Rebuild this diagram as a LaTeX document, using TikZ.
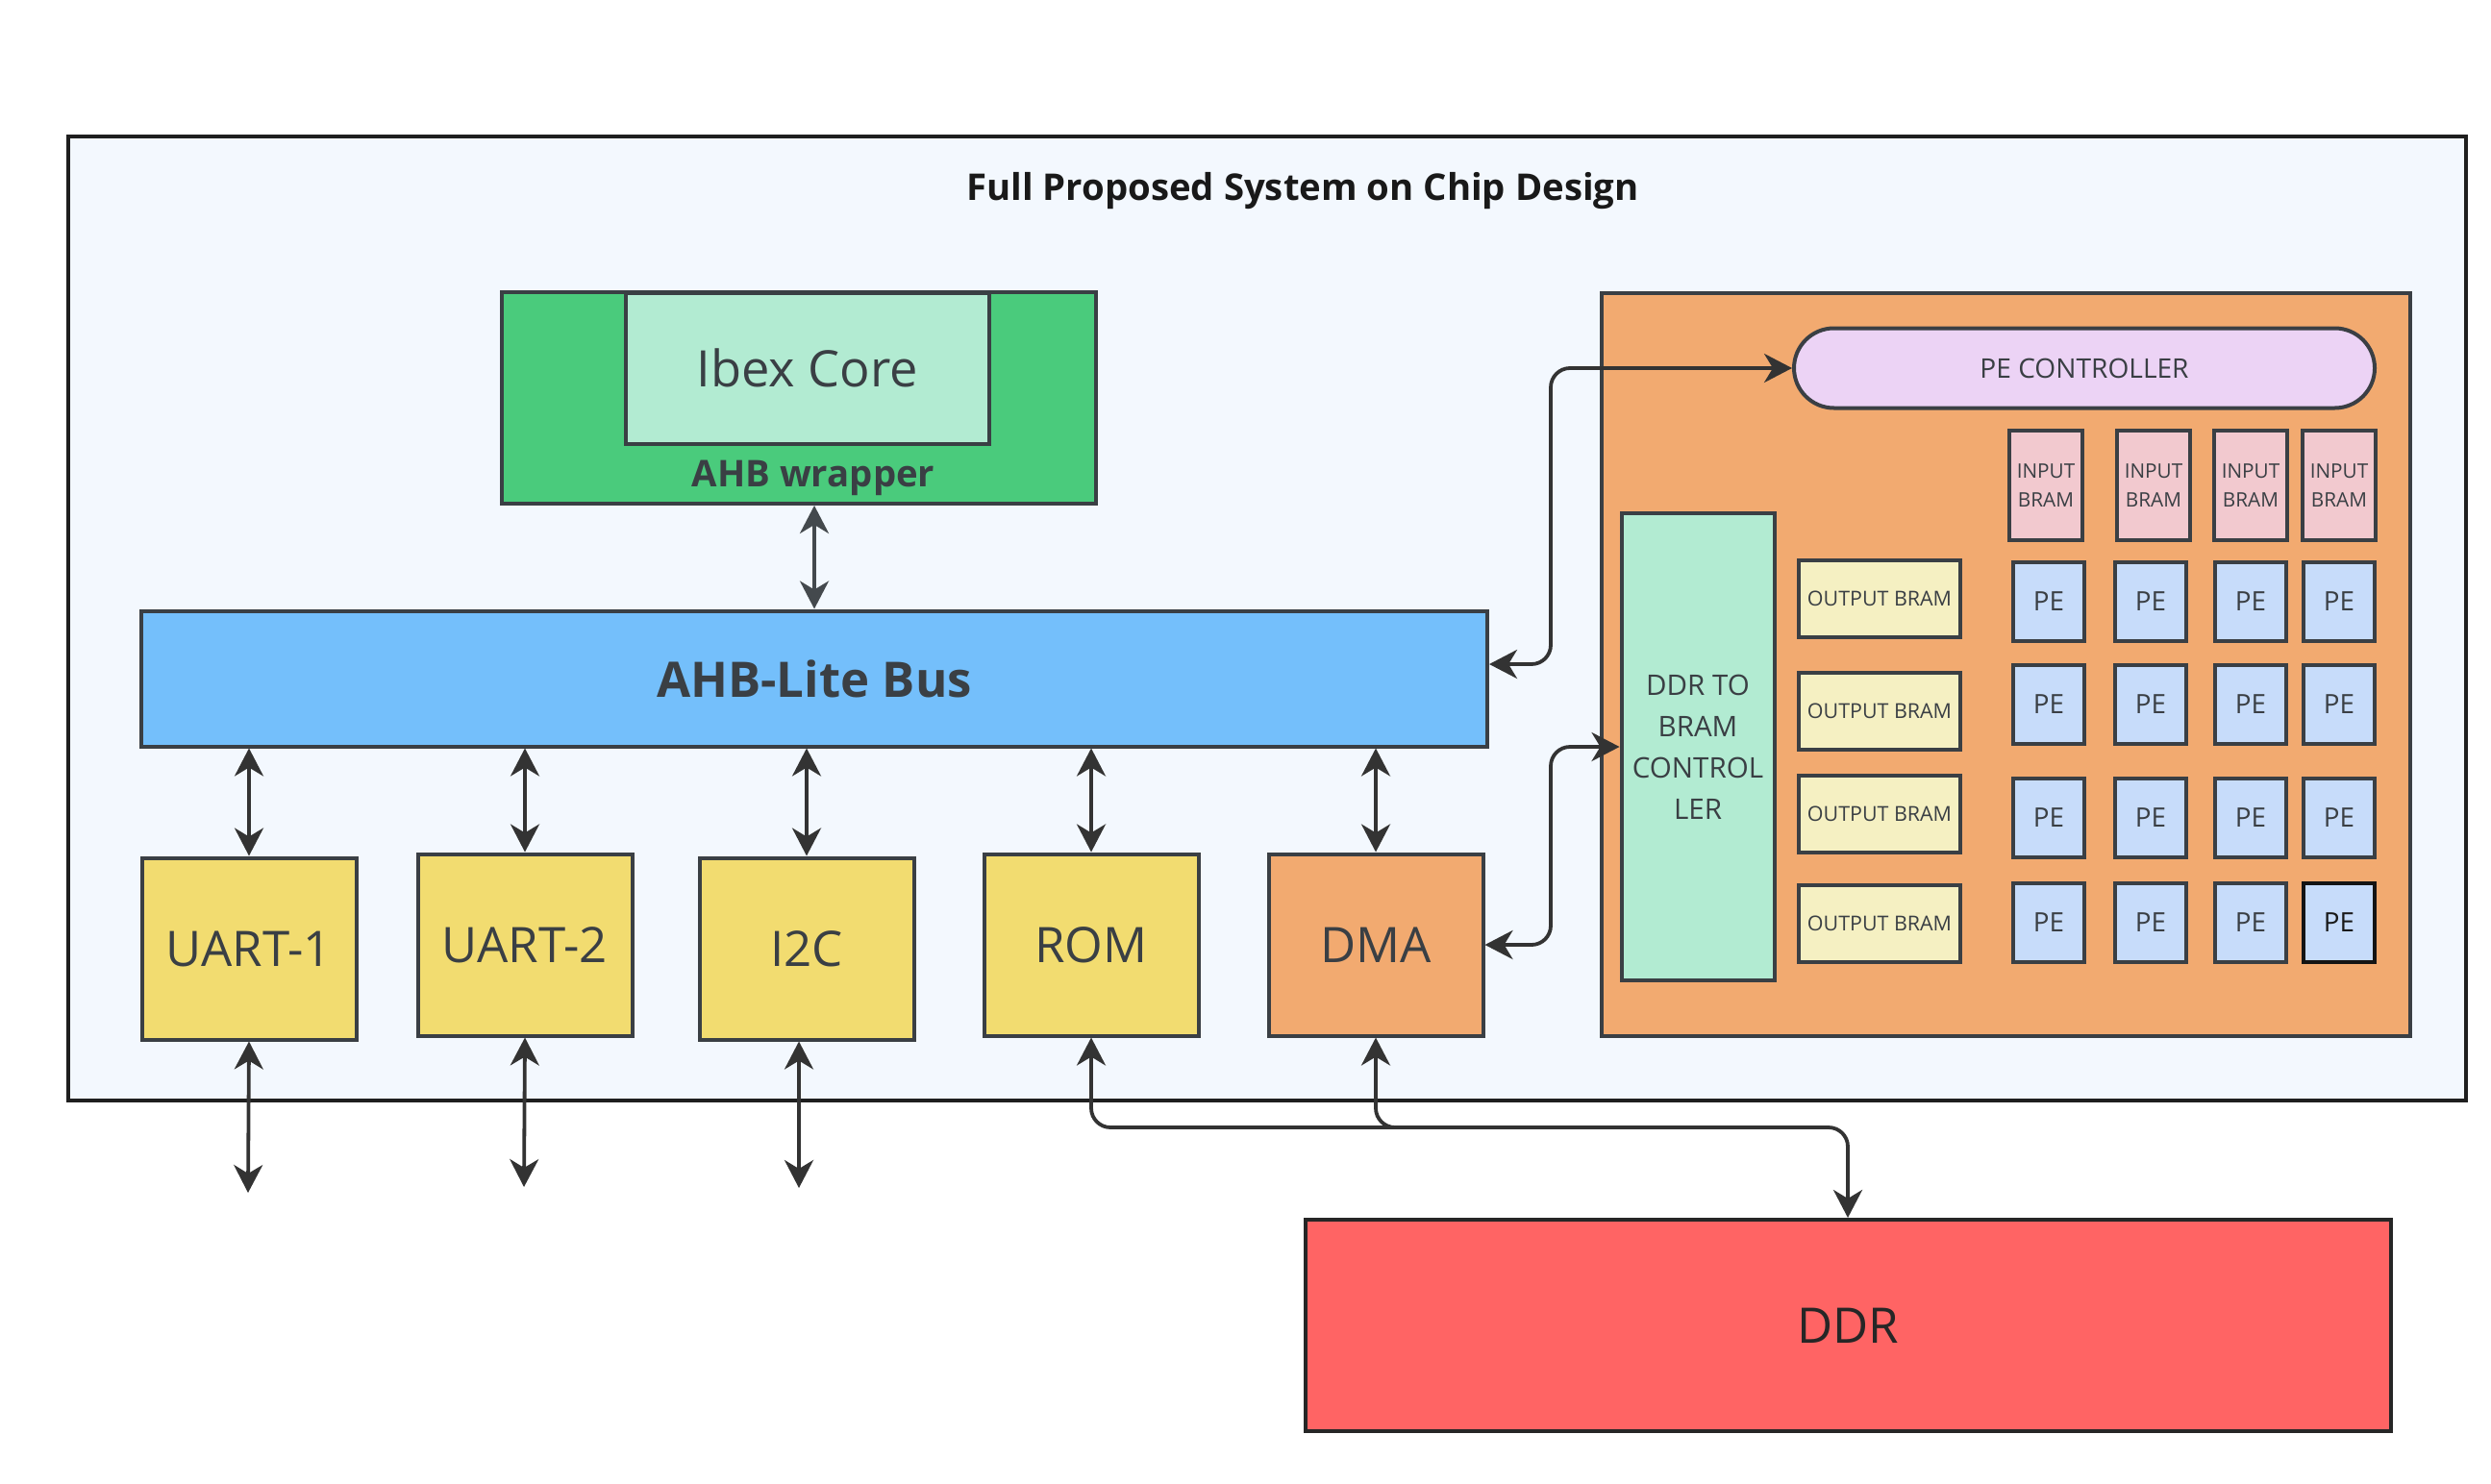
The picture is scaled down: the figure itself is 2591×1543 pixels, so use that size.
\documentclass[tikz,border=0pt]{standalone}
\usepackage{fontspec}
\setmainfont{Open Sans}
\usetikzlibrary{arrows.meta, positioning, calc}

\definecolor{chipbg}{RGB}{243,248,254}
\definecolor{edgegray}{RGB}{58,63,68}
\definecolor{wrapgreen}{RGB}{74,203,124}
\definecolor{coremint}{RGB}{178,235,210}
\definecolor{busblue}{RGB}{116,191,251}
\definecolor{periyellow}{RGB}{242,220,112}
\definecolor{accorange}{RGB}{242,170,112}
\definecolor{ctrlpurple}{RGB}{236,211,245}
\definecolor{inpink}{RGB}{242,201,207}
\definecolor{outcream}{RGB}{245,240,194}
\definecolor{peblue}{RGB}{199,220,250}
\definecolor{ddrred}{RGB}{255,100,100}

\begin{document}
\begin{tikzpicture}[
        x=0.1mm, y=-0.1mm,
        % --- Styles ---
        block/.style={rectangle, draw=edgegray, line width=0.4mm, inner sep=0pt, align=center, text=edgegray},
        periph/.style={block, fill=periyellow, minimum width=22.3mm, minimum height=18.9mm, font=\fontsize{14.5}{17}\selectfont},
        pebox/.style={block, fill=peblue, minimum width=7.4mm, minimum height=8.2mm, font=\fontsize{7.9}{9}\selectfont},
        inbram/.style={block, fill=inpink, minimum width=7.6mm, minimum height=11.4mm, font=\fontsize{5.9}{8.4}\selectfont},
        outbram/.style={block, fill=outcream, minimum width=16.8mm, minimum height=8mm, font=\fontsize{6.1}{7}\selectfont},
        % --- Line Styles ---
        line/.style={draw, <->, >={Stealth[length=2.9mm, width=3mm, inset=0.9mm]}, color=black!80, line width=0.38mm},
        elbow/.style={line, rounded corners=2mm}
    ]

        \useasboundingbox (0,0) rectangle (2591,1543);
        \fill[white] (0,0) rectangle (2591,1543);

        % --- Chip frame ---
        \node[rectangle, draw=black!88, line width=0.45mm, fill=chipbg, minimum width=249.4mm, minimum height=100.3mm] (chip) at (1318,643.5) {};
        \node[font=\bfseries\fontsize{10.9}{12}\selectfont, text=black!90] (title) at (1355,199) {Full Proposed System on Chip Design};

        % --- CPU side ---
        \node[block, fill=wrapgreen, minimum width=61.8mm, minimum height=22mm] (wrapper) at (831,414) {};
        \node[block, fill=coremint, minimum width=37.8mm, minimum height=15.7mm, font=\fontsize{14.9}{17}\selectfont] (core) at (840,383) {Ibex Core};
        \node[font=\bfseries\fontsize{10.9}{12}\selectfont, text=edgegray] (wraplbl) at (846,497) {AHB wrapper};
        \node[block, fill=busblue, minimum width=140mm, minimum height=14.1mm, font=\bfseries\fontsize{14.5}{17}\selectfont] (bus) at (847,706) {AHB-Lite Bus};

        % --- Peripherals ---
        \node[periph] (uart1) at (259,987) {UART-1};
        \node[periph] (uart2) at (546,983) {UART-2};
        \node[periph] (i2c) at (839,987) {I2C};
        \node[periph] (rom) at (1135,983) {ROM};
        \node[periph, fill=accorange] (dma) at (1431,983) {DMA};

        % --- Accelerator ---
        \node[block, fill=accorange, minimum width=84.1mm, minimum height=77.3mm] (accel) at (2086,691) {};
        \node[block, fill=ctrlpurple, minimum width=60.4mm, minimum height=8.3mm, rounded corners=4.15mm, font=\fontsize{8}{9}\selectfont] (pectrl) at (2168,383) {PE CONTROLLER};
        \node[block, fill=coremint, minimum width=15.9mm, minimum height=48.6mm, font=\fontsize{8.4}{12.2}\selectfont] (ddrctrl) at (1766,777) {DDR TO\\BRAM\\CONTROL\\LER};

        \foreach \r/\y in {1/623, 2/740, 3/847, 4/961}
            \node[outbram] (out\r) at (1955,\y) {OUTPUT BRAM};
        \foreach \c/\x in {1/2128, 2/2240, 3/2341, 4/2433}
            \node[inbram] (in\c) at (\x,505) {INPUT\\BRAM};
        \foreach \r/\y in {1/626, 2/733, 3/851, 4/960}
            \foreach \c/\x in {1/2131, 2/2237, 3/2341, 4/2433}
                \node[pebox] (pe\r\c) at (\x,\y) {PE};
        \node[pebox, draw=black!92, text=black!90] at (pe44) {PE};

        % --- Memory ---
        \node[block, fill=ddrred, draw=black!85, text=black!85, minimum width=112.9mm, minimum height=22mm, font=\fontsize{14.5}{17}\selectfont] (ddr) at (1922,1379) {DDR};

        % --- Bus connections ---
        \draw[line, color=edgegray!95] (bus.north) -- (bus.north |- wrapper.south);
        \foreach \p in {uart1, uart2, i2c, rom, dma}
            \draw[line] (\p.north) -- (\p.north |- bus.south);

        % --- Off-chip pins ---
        \coordinate (uart1pin) at (258,1241);
        \coordinate (uart2pin) at (545,1235);
        \coordinate (i2cpin) at (831,1236);
        \draw[line] (uart1.south) -- (uart1pin);
        \draw[line] (uart2.south) -- (uart2pin);
        \draw[line] (i2cpin |- i2c.south) -- (i2cpin);

        % --- Memory path ---
        \coordinate (memjoin) at (1922,1173);
        \draw[elbow] (rom.south) |- (memjoin) -- (ddr.north);
        \draw[elbow, <-] (dma.south) |- ([xshift=-5mm]memjoin);

        % --- Accelerator links ---
        \coordinate (tap) at (1613,0);
        \draw[elbow] ([yshift=1.5mm]bus.east) -| (tap |- pectrl.west) -- (pectrl.west);
        \draw[elbow] (dma.east) -| (tap |- ddrctrl.west) -- (ddrctrl.west);

    \end{tikzpicture}
\end{document}
